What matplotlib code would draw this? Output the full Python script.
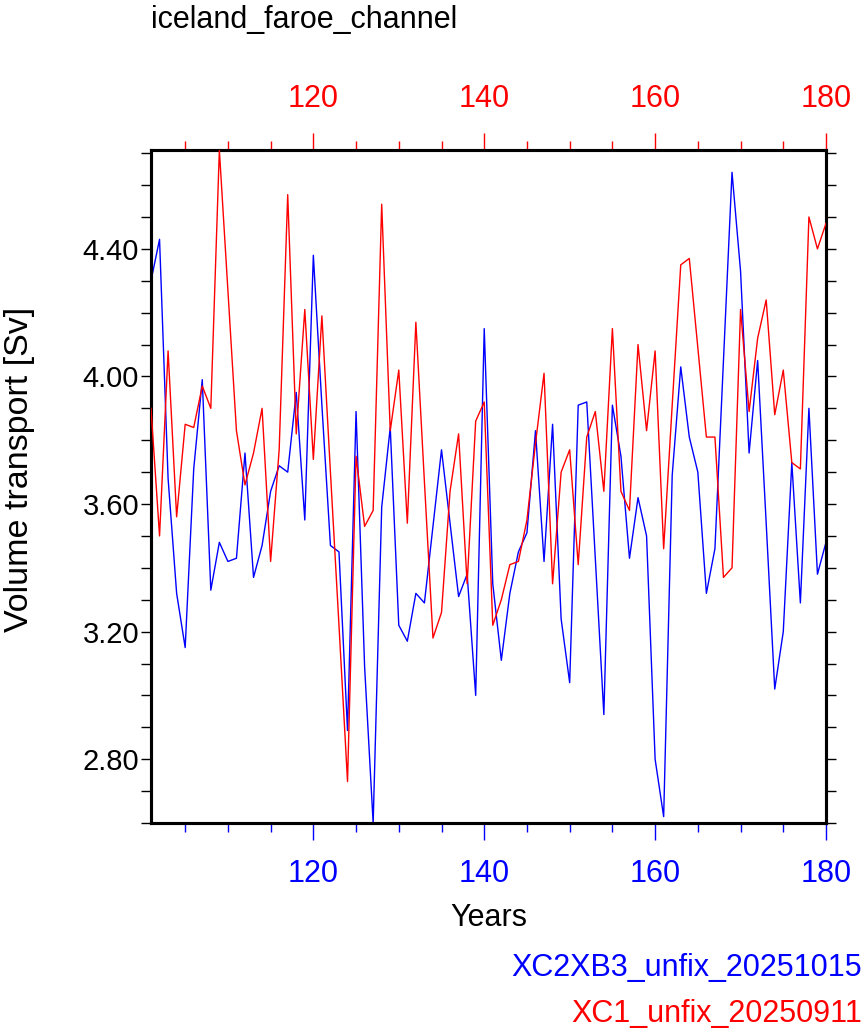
import matplotlib
matplotlib.use('Agg')
import matplotlib.pyplot as plt
from matplotlib.ticker import MultipleLocator, FormatStrFormatter

plt.rcParams['font.family'] = ['Liberation Sans', 'DejaVu Sans']

# ---------------- data ----------------
years = list(range(101, 181))

blue_vals = [4.30, 4.43, 3.68, 3.32, 3.15, 3.71, 3.99, 3.33, 3.48, 3.42,
             3.43, 3.76, 3.37, 3.47, 3.64, 3.72, 3.70, 3.95, 3.55, 4.38,
             3.91, 3.47, 3.45, 2.89, 3.89, 3.09, 2.60, 3.59, 3.84, 3.22,
             3.17, 3.32, 3.29, 3.53, 3.77, 3.54, 3.31, 3.38, 3.00, 4.15,
             3.35, 3.11, 3.32, 3.45, 3.51, 3.83, 3.42, 3.85, 3.24, 3.04,
             3.91, 3.92, 3.43, 2.94, 3.91, 3.75, 3.43, 3.62, 3.50, 2.80,
             2.62, 3.69, 4.03, 3.81, 3.70, 3.32, 3.46, 4.05, 4.64, 4.33,
             3.76, 4.05, 3.54, 3.02, 3.20, 3.73, 3.29, 3.90, 3.38, 3.48]

red_vals = [3.90, 3.50, 4.08, 3.56, 3.85, 3.84, 3.97, 3.90, 4.71, 4.27,
            3.83, 3.66, 3.76, 3.90, 3.42, 3.77, 4.57, 3.82, 4.21, 3.74,
            4.19, 3.70, 3.22, 2.73, 3.75, 3.53, 3.58, 4.54, 3.83, 4.02,
            3.54, 4.17, 3.67, 3.18, 3.26, 3.64, 3.82, 3.35, 3.86, 3.92,
            3.22, 3.30, 3.41, 3.42, 3.55, 3.79, 4.01, 3.35, 3.70, 3.77,
            3.41, 3.81, 3.89, 3.64, 4.15, 3.64, 3.58, 4.10, 3.83, 4.08,
            3.46, 3.91, 4.35, 4.37, 4.09, 3.81, 3.81, 3.37, 3.40, 4.21,
            3.89, 4.12, 4.24, 3.88, 4.02, 3.73, 3.71, 4.50, 4.40, 4.48]

title = "iceland_faroe_channel"
x_label = "Years"
y_label = "Volume transport [Sv]"
blue_name = "XC2XB3_unfix_20251015"
red_name = "XC1_unfix_20250911"

# ---------------- figure ----------------
W, H = 865, 1035
fig = plt.figure(figsize=(W / 100, H / 100), dpi=100)
ax = fig.add_axes([151 / W, 1 - 823 / H, (826 - 151) / W, (823 - 150) / H])
ax2 = ax.twiny()

BLUE = '#0000ff'
RED = '#ff0000'
FS = 22

ax.plot(years, blue_vals, color=BLUE, lw=1.0, zorder=2)
ax2.plot(years, red_vals, color=RED, lw=1.0, zorder=3)

ymin = min(min(blue_vals), min(red_vals))
ymax = max(max(blue_vals), max(red_vals))
ax.set_ylim(ymin, ymax)
ax.set_xlim(years[0], years[-1])
ax2.set_xlim(years[0], years[-1])

for a in (ax, ax2):
    for s in a.spines.values():
        s.set_linewidth(2.2)

# bottom x axis (blue)
ax.xaxis.set_major_locator(MultipleLocator(20))
ax.xaxis.set_minor_locator(MultipleLocator(5))
ax.tick_params(axis='x', which='both', direction='out', color=BLUE,
               labelcolor=BLUE, labelsize=FS, width=1.0)
ax.tick_params(axis='x', which='major', length=12, pad=14)
ax.tick_params(axis='x', which='minor', length=6.5)

# top x axis (red)
ax2.xaxis.set_major_locator(MultipleLocator(20))
ax2.xaxis.set_minor_locator(MultipleLocator(5))
ax2.tick_params(axis='x', which='both', direction='out', color=RED,
                labelcolor=RED, labelsize=FS, width=1.0)
ax2.tick_params(axis='x', which='major', length=12, pad=14)
ax2.tick_params(axis='x', which='minor', length=6.5)

# y axis
ax.yaxis.set_major_locator(MultipleLocator(0.4))
ax.yaxis.set_minor_locator(MultipleLocator(0.1))
ax.yaxis.set_major_formatter(FormatStrFormatter('%.2f'))
ax.tick_params(axis='y', which='both', direction='out', left=True, right=True,
               labelleft=True, labelright=False, labelsize=21, width=1.0,
               color='black', length=7, pad=1.5)

fig.text(151 / W, 1 - 28 / H, title, fontsize=FS, ha='left', va='baseline')
fig.text(489 / W, 1 - 918 / H, x_label, fontsize=FS, ha='center', va='center')
fig.text(20 / W, 1 - 469 / H, y_label, fontsize=24.5, ha='center', va='center',
         rotation=90)
fig.text(862 / W, 1 - 968 / H, blue_name, fontsize=FS, color=BLUE,
         ha='right', va='center')
fig.text(862 / W, 1 - 1014 / H, red_name, fontsize=FS, color=RED,
         ha='right', va='center')

fig.savefig('out.png', dpi=100)
